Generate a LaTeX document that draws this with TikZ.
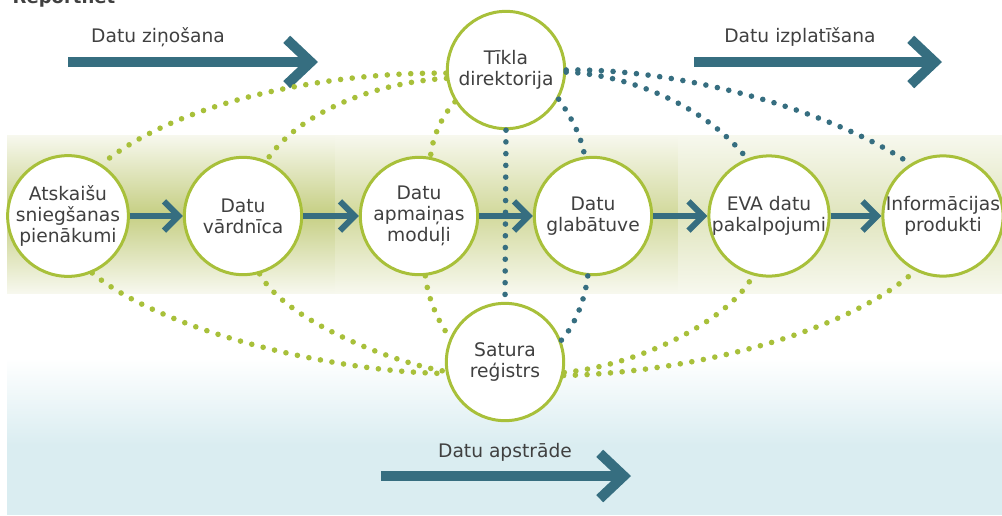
\documentclass[tikz,border=0pt]{standalone}
\usepackage{fontspec}
\setmainfont{DejaVu Sans}
\usetikzlibrary{arrows.meta}
\definecolor{myteal}{RGB}{54,110,128}
\definecolor{mygreen}{RGB}{168,192,58}
\definecolor{textgray}{RGB}{64,64,64}
\definecolor{bluebg}{RGB}{218,237,241}
\definecolor{bandedge}{RGB}{247,248,238}
\definecolor{bandL}{RGB}{198,207,132}
\definecolor{bandM}{RGB}{210,217,156}
\definecolor{bandR}{RGB}{224,229,190}
\begin{document}
\begin{tikzpicture}[x=0.75pt,y=-0.75pt,
  circ/.style={circle,draw=mygreen,line width=2.25pt,fill=white,minimum size=88pt,inner sep=0pt,align=center,text=textgray,font=\fontsize{14}{15.8}\selectfont},
  flow/.style={draw=myteal,line width=4.5pt,-{Straight Barb[length=11pt,width=22pt]}},
  bigflow/.style={draw=myteal,line width=7.5pt,-{Straight Barb[length=18pt,width=34pt]}},
  gdots/.style={draw=mygreen,line width=4.2pt,line cap=round,dash pattern=on 0pt off 8.8pt},
  tdots/.style={gdots,draw=myteal},
  lbl/.style={text=textgray,font=\fontsize{14}{15.8}\selectfont,anchor=base}
]
\useasboundingbox (0,0) rectangle (1002,515);
% backgrounds
\shade[top color=bandedge,bottom color=bandedge,middle color=bandL] (7,135) rectangle (335,293);
\shade[top color=bandedge,bottom color=bandedge,middle color=bandM] (335,135) rectangle (678,293);
\shade[top color=bandedge,bottom color=bandedge,middle color=bandR] (678,135) rectangle (1002,293);
\shade[top color=white,bottom color=bluebg] (7,358) rectangle (1002,445);
\fill[bluebg] (7,444) rectangle (1002,515);
% title
\node[anchor=base west,text=textgray,font=\fontsize{13.5}{15.8}\selectfont\bfseries] (title) at (8,3) {Reportnet};
% big arrows
\coordinate (za) at (68,62); \coordinate (zb) at (318,62);
\coordinate (ia) at (694,62); \coordinate (ib) at (942,62);
\coordinate (aa) at (381,476); \coordinate (ab) at (631,476);
\draw[bigflow] (za) -- (zb);
\draw[bigflow] (ia) -- (ib);
\draw[bigflow] (aa) -- (ab);
\node[lbl] (lz) at (158,42) {Datu ziņošana};
\node[lbl] (li) at (800,42) {Datu izplatīšana};
\node[lbl] (la) at (505,457) {Datu apstrāde};
% circles
\node[circ] (c1) at (68,216) {Atskaišu\\sniegšanas\\pienākumi};
\node[circ] (c2) at (243,216) {Datu\\vārdnīca};
\node[circ] (c3) at (419,216) {Datu\\apmaiņas\\moduļi};
\node[circ] (c4) at (593,216) {Datu\\glabātuve};
\node[circ] (c5) at (769,216) {EVA datu\\pakalpojumi};
\node[circ] (c6) at (943,216) {Informācijas\\produkti};
\node[circ] (t) at (506,70) {Tīkla\\direktorija};
\node[circ] (b) at (505,362) {Satura\\reģistrs};
% flow arrows
\draw[flow] (c1) -- (c2);
\draw[flow] (c2) -- (c3);
\draw[flow] (c3) -- (c4);
\draw[flow] (c4) -- (c5);
\draw[flow] (c5) -- (c6);
% dotted links
\draw[gdots] (t.183) .. controls (330,72) and (180,100) .. (c1.57);
\draw[gdots] (t.188) .. controls (380,82) and (300,110) .. (c2.67);
\draw[gdots] (t.212) .. controls (440,118) and (432,140) .. (c3.79);
\draw[tdots] (t.south) -- (b.north);
\draw[tdots] (t.331) .. controls (572,118) and (582,138) .. (c4.98);
\draw[tdots] (t.358) .. controls (620,74) and (700,100) .. (c5.111);
\draw[tdots] (t.0) .. controls (680,68) and (830,110) .. (c6.122);
\draw[gdots] (c1.293) .. controls (160,330) and (330,372) .. (b.191);
\draw[gdots] (c2.286) .. controls (285,320) and (390,362) .. (b.189);
\draw[gdots] (c3.276) .. controls (428,300) and (440,325) .. (b.156);
\draw[tdots] (c4.265) .. controls (585,300) and (575,325) .. (b.21);
\draw[gdots] (b.350) .. controls (640,365) and (730,320) .. (c5.255);
\draw[gdots] (b.347) .. controls (700,372) and (850,330) .. (c6.243);
\end{tikzpicture}
\end{document}
